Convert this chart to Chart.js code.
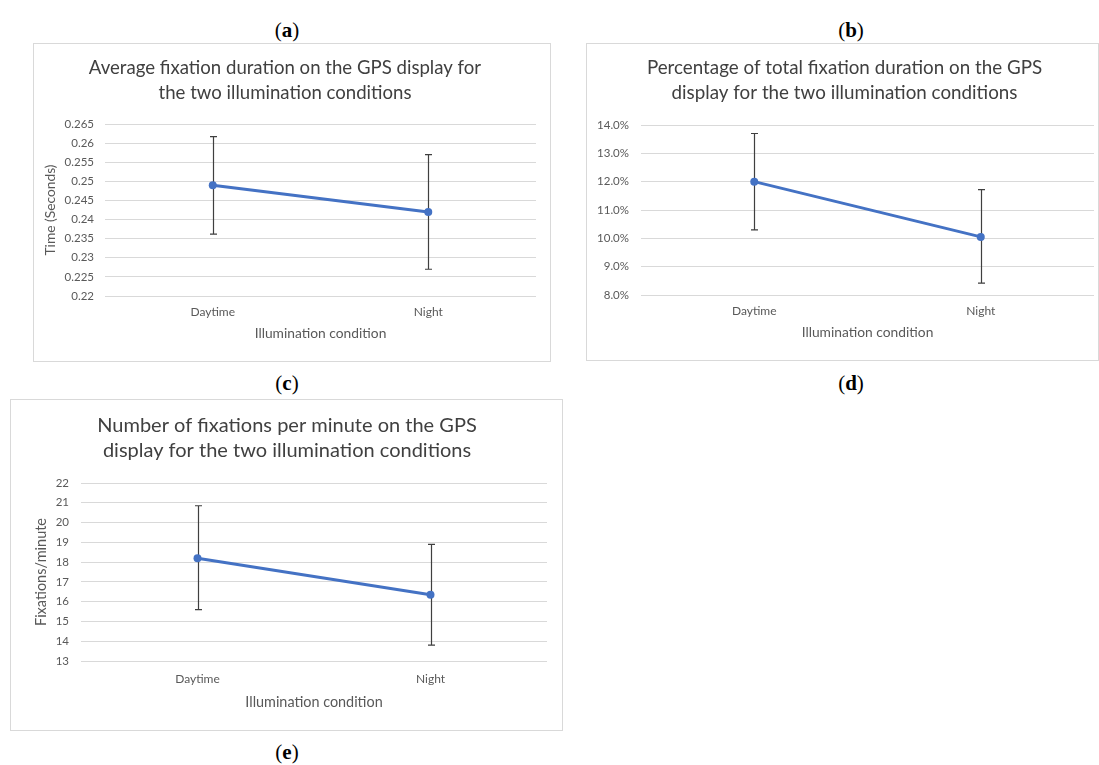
<!DOCTYPE html>
<html>
<head>
<meta charset="utf-8">
<script src="https://cdn.jsdelivr.net/npm/chart.js@4/dist/chart.umd.min.js"></script>
<style>
  html, body { margin: 0; padding: 0; background: #ffffff; }
  body { width: 1099px; height: 765px; position: relative; overflow: hidden; }
  .panel { position: absolute; border: 1px solid #d9d9d9; box-sizing: border-box; background: #fff; }
  .panel canvas { display: block; }
  .lbl { position: absolute; font-family: "Liberation Serif", "DejaVu Serif", serif; font-size: 21px; color: #000;
         transform: translate(-50%, -50%); white-space: nowrap; }
</style>
</head>
<body>
<div class="lbl" style="left:287px; top:30px;">(<b>a</b>)</div>
<div class="lbl" style="left:851px; top:30px;">(<b>b</b>)</div>
<div class="lbl" style="left:287px; top:383px;">(<b>c</b>)</div>
<div class="lbl" style="left:851px; top:383px;">(<b>d</b>)</div>
<div class="lbl" style="left:287px; top:752px;">(<b>e</b>)</div>

<div class="panel" id="pa" style="left:33px; top:43px; width:518px; height:319px;"><canvas id="ca"></canvas></div>
<div class="panel" id="pb" style="left:586px; top:43px; width:513px; height:318px;"><canvas id="cb"></canvas></div>
<div class="panel" id="pc" style="left:10px; top:399px; width:553px; height:332px;"><canvas id="cc"></canvas></div>

<script>
// ---- data ----
const categories = ['Daytime', 'Night'];

const durationMean = [0.249, 0.242];
const durationLow  = [0.2362, 0.227];
const durationHigh = [0.2617, 0.257];
const durationTicks = [0.22, 0.225, 0.23, 0.235, 0.24, 0.245, 0.25, 0.255, 0.26, 0.265];

const percentMean = [12.0, 10.05];
const percentLow  = [10.3, 8.42];
const percentHigh = [13.7, 11.72];
const percentTicks = [8, 9, 10, 11, 12, 13, 14];

const rateMean = [18.2, 16.35];
const rateLow  = [15.6, 13.8];
const rateHigh = [20.85, 18.9];
const rateTicks = [13, 14, 15, 16, 17, 18, 19, 20, 21, 22];

const titleA = ['Average fixation duration on the GPS display for', 'the two illumination conditions'];
const titleB = ['Percentage of total fixation duration on the GPS', 'display for the two illumination conditions'];
const titleC = ['Number of fixations per minute on the GPS', 'display for the two illumination conditions'];
const xTitle = 'Illumination condition';
const yTitleA = 'Time (Seconds)';
const yTitleC = 'Fixations/minute';

// ---- styling ----
const FONT = 'Lato, "Open Sans", "Liberation Sans", sans-serif';
const BLUE = '#4472C4';
const TEXT = '#595959';
const GRID = '#d9d9d9';

const errorBarPlugin = {
  id: 'errorBars',
  beforeDatasetsDraw(chart) {
    const { ctx, scales: { x, y } } = chart;
    chart.data.datasets.forEach((ds) => {
      if (!ds.errLow) return;
      ds.errLow.forEach((lo, j) => {
        const hi = ds.errHigh[j];
        const px = Math.round(x.getPixelForValue(j)) + 0.5;
        const yl = y.getPixelForValue(lo);
        const yh = y.getPixelForValue(hi);
        ctx.save();
        ctx.strokeStyle = '#3f3f3f';
        ctx.lineWidth = 1.2;
        ctx.beginPath();
        ctx.moveTo(px, yh); ctx.lineTo(px, yl);
        ctx.moveTo(px - 3.5, yh); ctx.lineTo(px + 3.5, yh);
        ctx.moveTo(px - 3.5, yl); ctx.lineTo(px + 3.5, yl);
        ctx.stroke();
        ctx.restore();
      });
    });
  }
};

function makeChart(canvasId, cfg) {
  const ticksArr = cfg.ticks;
  return new Chart(document.getElementById(canvasId), {
    type: 'line',
    data: {
      labels: categories,
      datasets: [{
        data: cfg.mean,
        errLow: cfg.low,
        errHigh: cfg.high,
        borderColor: BLUE,
        backgroundColor: BLUE,
        borderWidth: 3,
        pointRadius: 4,
        pointBorderWidth: 0,
        pointBackgroundColor: BLUE,
        tension: 0
      }]
    },
    options: {
      responsive: true,
      maintainAspectRatio: false,
      animation: false,
      layout: { padding: { left: cfg.padLeft, right: cfg.padRight, top: 0, bottom: 0 } },
      plugins: {
        legend: { display: false },
        tooltip: { enabled: false },
        title: {
          display: true,
          text: cfg.title,
          color: '#404040',
          font: { family: FONT, size: cfg.titleSize, weight: 'normal', lineHeight: cfg.titleLinePx / cfg.titleSize },
          padding: { top: cfg.titleTop, bottom: cfg.titleBottom }
        }
      },
      scales: {
        x: {
          offset: true,
          grid: { display: false, drawTicks: false },
          border: { display: false },
          ticks: { color: TEXT, font: { family: FONT, size: 12 }, padding: cfg.xTickPad, maxRotation: 0 },
          title: { display: true, text: xTitle, color: TEXT, font: { family: FONT, size: cfg.xTitleSize, lineHeight: 1.2 },
                   padding: { top: 0, bottom: cfg.xTitlePad } },
          afterFit(scale) { scale.height = cfg.xHeight; }
        },
        y: {
          min: ticksArr[0],
          max: ticksArr[ticksArr.length - 1],
          grid: { color: GRID, lineWidth: 1, drawTicks: false },
          border: { display: false },
          afterBuildTicks(scale) { scale.ticks = ticksArr.map(v => ({ value: v })); },
          ticks: { color: TEXT, font: { family: FONT, size: 11.5 }, padding: cfg.yTickPad,
                   callback: cfg.fmt },
          title: { display: !!cfg.yTitle, text: cfg.yTitle || '', color: TEXT,
                   font: { family: FONT, size: cfg.yTitleSize || 12, lineHeight: 1.2 },
                   padding: { top: cfg.yTitlePad || 0, bottom: 0 } },
          afterFit(scale) { scale.width = cfg.yWidth; }
        }
      }
    },
    plugins: [errorBarPlugin]
  });
}

makeChart('ca', {
  mean: durationMean, low: durationLow, high: durationHigh, ticks: durationTicks,
  title: titleA, titleSize: 18.6, titleLinePx: 24.8, titleTop: 11.6, titleBottom: 18.8,
  padLeft: 0, padRight: 14, yWidth: 71, xHeight: 65, xTickPad: 8.8, xTitleSize: 13.8, xTitlePad: 18.7, yTickPad: 11,
  yTitle: yTitleA, yTitleSize: 13.8, yTitlePad: 8.7,
  fmt: (v) => String(+Number(v).toFixed(3))
});

makeChart('cb', {
  mean: percentMean, low: percentLow, high: percentHigh, ticks: percentTicks,
  title: titleB, titleSize: 18.8, titleLinePx: 24.8, titleTop: 11.6, titleBottom: 19.8,
  padLeft: 6, padRight: 2, yWidth: 48, xHeight: 65, xTickPad: 8.8, xTitleSize: 13.8, xTitlePad: 18.7, yTickPad: 12,
  yTitle: null,
  fmt: (v) => Number(v).toFixed(1) + '%'
});

makeChart('cc', {
  mean: rateMean, low: rateLow, high: rateHigh, ticks: rateTicks,
  title: titleC, titleSize: 20, titleLinePx: 25, titleTop: 13.5, titleBottom: 19.5,
  padLeft: 16, padRight: 15, yWidth: 54, xHeight: 69, xTickPad: 10.8, xTitleSize: 14.4, xTitlePad: 19.4, yTickPad: 12,
  yTitle: yTitleC, yTitleSize: 14.5, yTitlePad: 5.3,
  fmt: (v) => String(v)
});
</script>
</body>
</html>
